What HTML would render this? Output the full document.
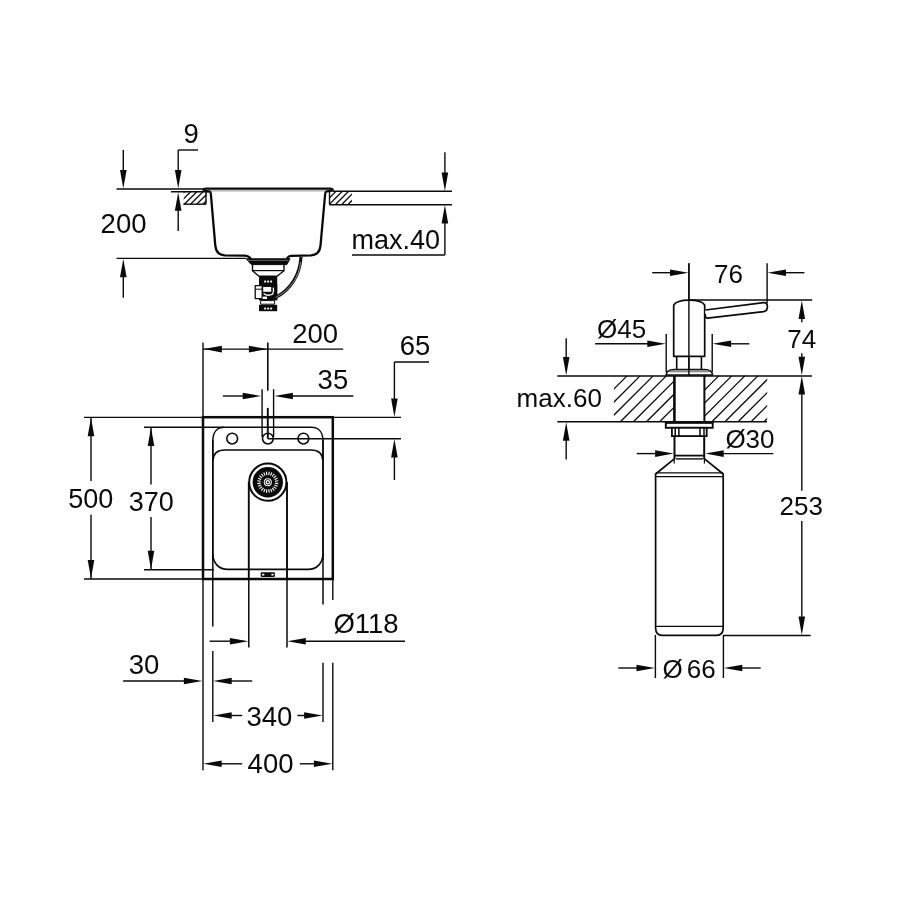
<!DOCTYPE html>
<html lang="en">
<head>
<meta charset="utf-8">
<title>Sink and soap dispenser dimensions</title>
<style>
html,body{margin:0;padding:0;background:#fff;}
body{width:900px;height:900px;overflow:hidden;}
svg{display:block;will-change:transform;}
svg text{font-family:"Liberation Sans",sans-serif;fill:#0a0a0a;stroke:none;}
</style>
</head>
<body>
<svg width="900" height="900" viewBox="0 0 900 900" fill="none" stroke="#0a0a0a" stroke-linecap="butt" stroke-linejoin="round">
<rect x="0" y="0" width="900" height="900" fill="#ffffff" stroke="none"/>
<g id="section-view">
<line x1="123.30" y1="150.00" x2="123.30" y2="175.00" stroke-width="1.4" />
<polygon points="123.30,188.60 120.00,170.10 126.60,170.10" fill="#0a0a0a" stroke="none"/>
<line x1="116.50" y1="189.00" x2="205.00" y2="189.00" stroke-width="1.4" />
<line x1="116.50" y1="258.40" x2="246.00" y2="258.40" stroke-width="1.4" />
<polygon points="123.30,258.80 120.00,277.30 126.60,277.30" fill="#0a0a0a" stroke="none"/>
<line x1="123.30" y1="275.00" x2="123.30" y2="297.80" stroke-width="1.4" />
<text x="100.60" y="232.90" font-size="27.5" text-anchor="start" >200</text>
<line x1="178.20" y1="150.00" x2="198.00" y2="150.00" stroke-width="1.4" />
<line x1="178.20" y1="150.00" x2="178.20" y2="175.00" stroke-width="1.4" />
<polygon points="178.20,188.60 174.90,170.10 181.50,170.10" fill="#0a0a0a" stroke="none"/>
<line x1="171.00" y1="191.80" x2="209.00" y2="191.80" stroke-width="1.4" />
<polygon points="178.20,192.20 174.90,210.70 181.50,210.70" fill="#0a0a0a" stroke="none"/>
<line x1="178.20" y1="208.00" x2="178.20" y2="231.00" stroke-width="1.4" />
<text x="183.40" y="143.20" font-size="27.5" text-anchor="start" >9</text>
<clipPath id="hc1"><rect x="183.70" y="191.30" width="22.60" height="13.00"/></clipPath>
<g clip-path="url(#hc1)">
<line x1="171.90" y1="204.30" x2="184.90" y2="191.30" stroke-width="1.3" />
<line x1="178.10" y1="204.30" x2="191.10" y2="191.30" stroke-width="1.3" />
<line x1="184.30" y1="204.30" x2="197.30" y2="191.30" stroke-width="1.3" />
<line x1="190.50" y1="204.30" x2="203.50" y2="191.30" stroke-width="1.3" />
<line x1="196.70" y1="204.30" x2="209.70" y2="191.30" stroke-width="1.3" />
<line x1="202.90" y1="204.30" x2="215.90" y2="191.30" stroke-width="1.3" />
<line x1="209.10" y1="204.30" x2="222.10" y2="191.30" stroke-width="1.3" />
<line x1="215.30" y1="204.30" x2="228.30" y2="191.30" stroke-width="1.3" />
</g>
<line x1="183.30" y1="204.20" x2="206.00" y2="204.20" stroke-width="1.4" />
<line x1="206.00" y1="191.80" x2="206.00" y2="204.20" stroke-width="1.4" />
<clipPath id="hc2"><rect x="329.30" y="191.30" width="22.60" height="12.90"/></clipPath>
<g clip-path="url(#hc2)">
<line x1="316.80" y1="204.20" x2="329.70" y2="191.30" stroke-width="1.3" />
<line x1="323.10" y1="204.20" x2="336.00" y2="191.30" stroke-width="1.3" />
<line x1="329.40" y1="204.20" x2="342.30" y2="191.30" stroke-width="1.3" />
<line x1="335.70" y1="204.20" x2="348.60" y2="191.30" stroke-width="1.3" />
<line x1="342.00" y1="204.20" x2="354.90" y2="191.30" stroke-width="1.3" />
<line x1="348.30" y1="204.20" x2="361.20" y2="191.30" stroke-width="1.3" />
<line x1="354.60" y1="204.20" x2="367.50" y2="191.30" stroke-width="1.3" />
<line x1="360.90" y1="204.20" x2="373.80" y2="191.30" stroke-width="1.3" />
</g>
<line x1="329.50" y1="191.30" x2="329.50" y2="204.70" stroke-width="1.4" />
<line x1="332.50" y1="191.30" x2="452.00" y2="191.30" stroke-width="1.4" />
<line x1="329.50" y1="204.70" x2="452.00" y2="204.70" stroke-width="1.4" />
<line x1="444.90" y1="152.20" x2="444.90" y2="175.00" stroke-width="1.4" />
<polygon points="444.90,190.90 441.60,172.40 448.20,172.40" fill="#0a0a0a" stroke="none"/>
<polygon points="444.90,205.10 441.60,223.60 448.20,223.60" fill="#0a0a0a" stroke="none"/>
<line x1="444.90" y1="222.00" x2="444.90" y2="255.00" stroke-width="1.4" />
<line x1="352.00" y1="255.00" x2="444.90" y2="255.00" stroke-width="1.4" />
<text x="351.40" y="248.60" font-size="27" text-anchor="start" >max.40</text>
<path d="M203.6,190.8 Q203.0,188.6 206,188.6 L330,188.6 Q333.2,188.6 332.8,190.8" stroke-width="2.2" fill="none" />
<line x1="207.00" y1="190.90" x2="329.00" y2="190.90" stroke-width="0.7" stroke="#666"/>
<path d="M203.8,190.8 L209.4,191.3 Q210.6,191.6 210.8,193.5 L215.3,245.6 Q216.2,254.8 224.8,255.3 L245,255.6 Q248,255.8 249.5,257.4 L251,258.8" stroke-width="2.3" fill="none" />
<path d="M332.4,190.6 L327,191.3 Q325.4,191.6 325.2,193.5 L320.5,245.6 Q319.6,254.8 311,255.3 L291.5,255.9 Q289,256 287.8,257.4 L286.6,258.8" stroke-width="2.3" fill="none" />
<path d="M246.3,258.8 L290,258.8 L286.8,264.6 L251.4,264.6 Z" stroke-width="1" fill="#0a0a0a" />
<line x1="248.00" y1="260.40" x2="288.50" y2="260.40" stroke-width="0.5" stroke="#bbb"/>
<path d="M252.5,264.6 L252.5,270.8 L259,276.3 L277,276.3 L284,270.8 L284,264.6" stroke-width="1.4" fill="none" />
<line x1="252.50" y1="270.60" x2="284.00" y2="270.60" stroke-width="1.2" />
<rect x="259" y="276.3" width="18.2" height="7.9" fill="#0a0a0a" stroke="none"/>
<rect x="264.2" y="280.6" width="1.9" height="1.9" fill="#fff" stroke="none"/>
<rect x="267.2" y="280.6" width="1.9" height="1.9" fill="#fff" stroke="none"/>
<rect x="270.2" y="280.6" width="1.9" height="1.9" fill="#fff" stroke="none"/>
<rect x="259" y="284" width="18.4" height="16.4" fill="#0a0a0a" stroke="none"/>
<rect x="255.2" y="285.6" width="7" height="13" fill="#fff" stroke="#0a0a0a" stroke-width="1.3"/>
<line x1="255.20" y1="289.20" x2="262.00" y2="289.20" stroke-width="1.0" />
<rect x="263.2" y="287" width="8" height="4.8" fill="#fff" stroke="none"/>
<path d="M263.6,293.4 Q267.5,296.6 272.6,294.2 Q274.2,291 273.2,287.6" stroke-width="1.3" fill="none" stroke="#fff"/>
<rect x="262.6" y="296.6" width="4.4" height="2.4" fill="#fff" stroke="none"/>
<rect x="260.6" y="300.6" width="14" height="3.6" fill="#fff" stroke="#0a0a0a" stroke-width="1"/>
<rect x="259" y="304.8" width="18.2" height="6.4" fill="#0a0a0a" stroke="none"/>
<rect x="264.2" y="307.6" width="1.9" height="1.9" fill="#fff" stroke="none"/>
<rect x="267.2" y="307.6" width="1.9" height="1.9" fill="#fff" stroke="none"/>
<rect x="270.2" y="307.6" width="1.9" height="1.9" fill="#fff" stroke="none"/>
<path d="M301,256.8 C300,275 290.5,290 275.6,297.4" stroke-width="3.1" fill="none" />
<path d="M300.6,262 C299,277 290.5,290 275.6,297.4" stroke-width="0.7" fill="none" stroke="#ccc"/>
</g>
<g id="plan-view">
<line x1="203.00" y1="342.60" x2="203.00" y2="417.00" stroke-width="1.4" />
<line x1="267.80" y1="342.60" x2="267.80" y2="390.80" stroke-width="1.6" />
<line x1="267.80" y1="407.90" x2="267.80" y2="438.70" stroke-width="1.9" />
<line x1="203.00" y1="349.10" x2="343.20" y2="349.10" stroke-width="1.4" />
<polygon points="203.40,349.10 221.90,345.80 221.90,352.40" fill="#0a0a0a" stroke="none"/>
<polygon points="267.40,349.10 248.90,345.80 248.90,352.40" fill="#0a0a0a" stroke="none"/>
<text x="292.20" y="343.20" font-size="27.5" text-anchor="start" >200</text>
<line x1="262.10" y1="389.20" x2="262.10" y2="437.00" stroke-width="1.4" />
<line x1="273.60" y1="389.20" x2="273.60" y2="437.00" stroke-width="1.4" />
<line x1="222.80" y1="396.00" x2="245.00" y2="396.00" stroke-width="1.4" />
<polygon points="261.20,396.00 242.70,392.70 242.70,399.30" fill="#0a0a0a" stroke="none"/>
<polygon points="274.40,396.00 292.90,392.70 292.90,399.30" fill="#0a0a0a" stroke="none"/>
<line x1="290.00" y1="396.00" x2="353.30" y2="396.00" stroke-width="1.4" />
<text x="317.60" y="389.20" font-size="27.5" text-anchor="start" >35</text>
<line x1="394.40" y1="362.00" x2="429.00" y2="362.00" stroke-width="1.4" />
<line x1="394.40" y1="362.00" x2="394.40" y2="400.00" stroke-width="1.4" />
<polygon points="394.40,417.00 391.10,398.50 397.70,398.50" fill="#0a0a0a" stroke="none"/>
<line x1="332.00" y1="417.40" x2="401.00" y2="417.40" stroke-width="1.4" />
<line x1="267.80" y1="438.70" x2="401.00" y2="438.70" stroke-width="1.4" />
<polygon points="394.40,439.10 391.10,457.60 397.70,457.60" fill="#0a0a0a" stroke="none"/>
<line x1="394.40" y1="455.00" x2="394.40" y2="480.00" stroke-width="1.4" />
<text x="399.80" y="355.30" font-size="27.5" text-anchor="start" >65</text>
<line x1="84.00" y1="417.40" x2="203.00" y2="417.40" stroke-width="1.4" />
<line x1="84.00" y1="579.00" x2="203.00" y2="579.00" stroke-width="1.4" />
<line x1="144.00" y1="427.20" x2="224.00" y2="427.20" stroke-width="1.4" />
<line x1="144.00" y1="569.70" x2="214.00" y2="569.70" stroke-width="1.4" />
<line x1="91.00" y1="417.40" x2="91.00" y2="481.00" stroke-width="1.4" />
<line x1="91.00" y1="514.80" x2="91.00" y2="579.00" stroke-width="1.4" />
<polygon points="91.00,417.80 87.70,436.30 94.30,436.30" fill="#0a0a0a" stroke="none"/>
<polygon points="91.00,578.60 87.70,560.10 94.30,560.10" fill="#0a0a0a" stroke="none"/>
<line x1="151.00" y1="427.20" x2="151.00" y2="484.50" stroke-width="1.4" />
<line x1="151.00" y1="517.00" x2="151.00" y2="569.70" stroke-width="1.4" />
<polygon points="151.00,427.60 147.70,446.10 154.30,446.10" fill="#0a0a0a" stroke="none"/>
<polygon points="151.00,569.30 147.70,550.80 154.30,550.80" fill="#0a0a0a" stroke="none"/>
<text x="68.20" y="508.10" font-size="27" text-anchor="start" >500</text>
<text x="128.80" y="510.70" font-size="27" text-anchor="start" >370</text>
<rect x="203" y="417.2" width="129.8" height="161.8" stroke-width="2.5" fill="none" stroke-linejoin="miter"/>
<line x1="203.00" y1="578.00" x2="203.00" y2="770.20" stroke-width="1.4" />
<line x1="212.80" y1="440.00" x2="212.80" y2="626.40" stroke-width="1.5" />
<line x1="212.80" y1="651.00" x2="212.80" y2="722.00" stroke-width="1.4" />
<line x1="323.00" y1="440.00" x2="323.00" y2="604.60" stroke-width="1.5" />
<line x1="323.00" y1="662.80" x2="323.00" y2="722.00" stroke-width="1.4" />
<line x1="332.80" y1="578.00" x2="332.80" y2="600.00" stroke-width="1.4" />
<line x1="332.80" y1="662.80" x2="332.80" y2="770.20" stroke-width="1.4" />
<path d="M212.8,560 L212.8,441 C212.8,433 216.5,427.2 224.5,427.2 L311.3,427.2 C319.3,427.2 323,433 323,441 L323,560" stroke-width="1.5" fill="none" />
<circle cx="232.2" cy="438.6" r="5.4" stroke-width="1.6"/>
<circle cx="267.9" cy="438.6" r="5.4" stroke-width="1.6"/>
<circle cx="303.4" cy="438.6" r="5.4" stroke-width="1.6"/>
<path d="M212.9,460.5 C213.2,453.5 217.5,450 225,450 L310.8,450 C318.3,450 322.6,453.5 322.9,460.5 M322.9,554 C322.9,563 317,569.4 308,569.4 L227.8,569.4 C218.8,569.4 212.9,563 212.9,554" stroke-width="1.6" fill="none" />
<line x1="248.80" y1="482.00" x2="248.80" y2="579.00" stroke-width="1.9" />
<line x1="248.80" y1="579.00" x2="248.80" y2="647.60" stroke-width="1.5" />
<line x1="287.00" y1="482.00" x2="287.00" y2="579.00" stroke-width="1.9" />
<line x1="287.00" y1="579.00" x2="287.00" y2="647.60" stroke-width="1.5" />
<circle cx="267.8" cy="482.2" r="18.6" stroke-width="2.0" fill="#fff"/>
<circle cx="267.8" cy="482.2" r="15.2" fill="#0a0a0a" stroke="none"/>
<line x1="274.94" y1="483.14" x2="278.31" y2="483.58" stroke-width="1.1" stroke="#fff"/>
<line x1="274.45" y1="484.96" x2="277.59" y2="486.26" stroke-width="1.1" stroke="#fff"/>
<line x1="273.51" y1="486.58" x2="276.21" y2="488.65" stroke-width="1.1" stroke="#fff"/>
<line x1="272.18" y1="487.91" x2="274.25" y2="490.61" stroke-width="1.1" stroke="#fff"/>
<line x1="270.56" y1="488.85" x2="271.86" y2="491.99" stroke-width="1.1" stroke="#fff"/>
<line x1="268.74" y1="489.34" x2="269.18" y2="492.71" stroke-width="1.1" stroke="#fff"/>
<line x1="266.86" y1="489.34" x2="266.42" y2="492.71" stroke-width="1.1" stroke="#fff"/>
<line x1="265.04" y1="488.85" x2="263.74" y2="491.99" stroke-width="1.1" stroke="#fff"/>
<line x1="263.42" y1="487.91" x2="261.35" y2="490.61" stroke-width="1.1" stroke="#fff"/>
<line x1="262.09" y1="486.58" x2="259.39" y2="488.65" stroke-width="1.1" stroke="#fff"/>
<line x1="261.15" y1="484.96" x2="258.01" y2="486.26" stroke-width="1.1" stroke="#fff"/>
<line x1="260.66" y1="483.14" x2="257.29" y2="483.58" stroke-width="1.1" stroke="#fff"/>
<line x1="260.66" y1="481.26" x2="257.29" y2="480.82" stroke-width="1.1" stroke="#fff"/>
<line x1="261.15" y1="479.44" x2="258.01" y2="478.14" stroke-width="1.1" stroke="#fff"/>
<line x1="262.09" y1="477.82" x2="259.39" y2="475.75" stroke-width="1.1" stroke="#fff"/>
<line x1="263.42" y1="476.49" x2="261.35" y2="473.79" stroke-width="1.1" stroke="#fff"/>
<line x1="265.04" y1="475.55" x2="263.74" y2="472.41" stroke-width="1.1" stroke="#fff"/>
<line x1="266.86" y1="475.06" x2="266.42" y2="471.69" stroke-width="1.1" stroke="#fff"/>
<line x1="268.74" y1="475.06" x2="269.18" y2="471.69" stroke-width="1.1" stroke="#fff"/>
<line x1="270.56" y1="475.55" x2="271.86" y2="472.41" stroke-width="1.1" stroke="#fff"/>
<line x1="272.18" y1="476.49" x2="274.25" y2="473.79" stroke-width="1.1" stroke="#fff"/>
<line x1="273.51" y1="477.82" x2="276.21" y2="475.75" stroke-width="1.1" stroke="#fff"/>
<line x1="274.45" y1="479.44" x2="277.59" y2="478.14" stroke-width="1.1" stroke="#fff"/>
<line x1="274.94" y1="481.26" x2="278.31" y2="480.82" stroke-width="1.1" stroke="#fff"/>
<circle cx="267.8" cy="482.2" r="4.0" fill="#fff" stroke="none"/>
<circle cx="267.8" cy="482.2" r="2.7" fill="none" stroke-width="0.9"/>
<circle cx="267.8" cy="482.2" r="1.0" fill="#0a0a0a" stroke="none"/>
<rect x="260.7" y="572.2" width="14.2" height="4.7" rx="0.8" fill="#0a0a0a" stroke="none"/>
<rect x="262.1" y="573.8" width="2.2" height="1.7" fill="#fff" stroke="none"/>
<rect x="271.4" y="573.8" width="2.2" height="1.7" fill="#fff" stroke="none"/>
<line x1="209.60" y1="641.20" x2="232.00" y2="641.20" stroke-width="1.4" />
<polygon points="248.40,641.20 229.90,637.90 229.90,644.50" fill="#0a0a0a" stroke="none"/>
<polygon points="287.30,641.20 305.80,637.90 305.80,644.50" fill="#0a0a0a" stroke="none"/>
<line x1="304.00" y1="641.20" x2="405.00" y2="641.20" stroke-width="1.4" />
<text x="333.40" y="633.40" font-size="27.5" text-anchor="start" >Ø118</text>
<line x1="123.10" y1="681.00" x2="186.00" y2="681.00" stroke-width="1.4" />
<polygon points="202.40,681.00 183.90,677.70 183.90,684.30" fill="#0a0a0a" stroke="none"/>
<polygon points="213.20,681.00 231.70,677.70 231.70,684.30" fill="#0a0a0a" stroke="none"/>
<line x1="230.00" y1="681.00" x2="252.20" y2="681.00" stroke-width="1.4" />
<text x="128.80" y="674.30" font-size="27.5" text-anchor="start" >30</text>
<polygon points="213.20,715.50 231.70,712.20 231.70,718.80" fill="#0a0a0a" stroke="none"/>
<line x1="230.00" y1="715.50" x2="242.20" y2="715.50" stroke-width="1.4" />
<line x1="297.30" y1="715.50" x2="306.00" y2="715.50" stroke-width="1.4" />
<polygon points="322.60,715.50 304.10,712.20 304.10,718.80" fill="#0a0a0a" stroke="none"/>
<text x="246.40" y="725.70" font-size="27.5" text-anchor="start" >340</text>
<polygon points="203.20,763.80 221.70,760.50 221.70,767.10" fill="#0a0a0a" stroke="none"/>
<line x1="220.00" y1="763.80" x2="242.20" y2="763.80" stroke-width="1.4" />
<line x1="299.80" y1="763.80" x2="316.00" y2="763.80" stroke-width="1.4" />
<polygon points="332.40,763.80 313.90,760.50 313.90,767.10" fill="#0a0a0a" stroke="none"/>
<text x="247.60" y="773.00" font-size="27.5" text-anchor="start" >400</text>
</g>
<g id="dispenser">
<line x1="688.90" y1="263.30" x2="688.90" y2="375.60" stroke-width="1.4" />
<line x1="767.10" y1="263.30" x2="767.10" y2="303.50" stroke-width="1.4" />
<line x1="652.20" y1="272.70" x2="672.00" y2="272.70" stroke-width="1.4" />
<polygon points="688.50,272.70 670.00,269.40 670.00,276.00" fill="#0a0a0a" stroke="none"/>
<polygon points="767.50,272.70 786.00,269.40 786.00,276.00" fill="#0a0a0a" stroke="none"/>
<line x1="784.00" y1="272.70" x2="804.40" y2="272.70" stroke-width="1.4" />
<text x="714.00" y="282.90" font-size="26" text-anchor="start" >76</text>
<line x1="688.90" y1="300.00" x2="812.20" y2="300.00" stroke-width="1.4" />
<polygon points="801.80,300.40 798.50,318.90 805.10,318.90" fill="#0a0a0a" stroke="none"/>
<line x1="801.80" y1="317.00" x2="801.80" y2="322.20" stroke-width="1.4" />
<line x1="801.80" y1="353.30" x2="801.80" y2="360.00" stroke-width="1.4" />
<polygon points="801.80,375.20 798.50,356.70 805.10,356.70" fill="#0a0a0a" stroke="none"/>
<text x="787.20" y="348.30" font-size="26" text-anchor="start" >74</text>
<polygon points="801.80,376.00 798.50,394.50 805.10,394.50" fill="#0a0a0a" stroke="none"/>
<line x1="801.80" y1="393.00" x2="801.80" y2="490.80" stroke-width="1.4" />
<line x1="801.80" y1="520.90" x2="801.80" y2="618.00" stroke-width="1.4" />
<polygon points="801.80,635.10 798.50,616.60 805.10,616.60" fill="#0a0a0a" stroke="none"/>
<line x1="723.00" y1="635.50" x2="810.70" y2="635.50" stroke-width="1.4" />
<text x="779.60" y="515.10" font-size="26" text-anchor="start" >253</text>
<line x1="557.30" y1="376.00" x2="812.00" y2="376.00" stroke-width="1.4" />
<line x1="557.30" y1="421.80" x2="767.00" y2="421.80" stroke-width="1.4" />
<clipPath id="hc3"><rect x="613.90" y="375.60" width="59.70" height="46.20"/></clipPath>
<g clip-path="url(#hc3)">
<line x1="568.00" y1="421.80" x2="614.20" y2="375.60" stroke-width="1.3" />
<line x1="581.08" y1="421.80" x2="627.28" y2="375.60" stroke-width="1.3" />
<line x1="594.16" y1="421.80" x2="640.36" y2="375.60" stroke-width="1.3" />
<line x1="607.24" y1="421.80" x2="653.44" y2="375.60" stroke-width="1.3" />
<line x1="620.32" y1="421.80" x2="666.52" y2="375.60" stroke-width="1.3" />
<line x1="633.40" y1="421.80" x2="679.60" y2="375.60" stroke-width="1.3" />
<line x1="646.48" y1="421.80" x2="692.68" y2="375.60" stroke-width="1.3" />
<line x1="659.56" y1="421.80" x2="705.76" y2="375.60" stroke-width="1.3" />
<line x1="672.64" y1="421.80" x2="718.84" y2="375.60" stroke-width="1.3" />
<line x1="685.72" y1="421.80" x2="731.92" y2="375.60" stroke-width="1.3" />
<line x1="698.80" y1="421.80" x2="745.00" y2="375.60" stroke-width="1.3" />
<line x1="711.88" y1="421.80" x2="758.08" y2="375.60" stroke-width="1.3" />
</g>
<clipPath id="hc4"><rect x="704.40" y="375.60" width="62.80" height="46.20"/></clipPath>
<g clip-path="url(#hc4)">
<line x1="659.70" y1="421.80" x2="705.90" y2="375.60" stroke-width="1.3" />
<line x1="672.75" y1="421.80" x2="718.95" y2="375.60" stroke-width="1.3" />
<line x1="685.80" y1="421.80" x2="732.00" y2="375.60" stroke-width="1.3" />
<line x1="698.85" y1="421.80" x2="745.05" y2="375.60" stroke-width="1.3" />
<line x1="711.90" y1="421.80" x2="758.10" y2="375.60" stroke-width="1.3" />
<line x1="724.95" y1="421.80" x2="771.15" y2="375.60" stroke-width="1.3" />
<line x1="738.00" y1="421.80" x2="784.20" y2="375.60" stroke-width="1.3" />
<line x1="751.05" y1="421.80" x2="797.25" y2="375.60" stroke-width="1.3" />
<line x1="764.10" y1="421.80" x2="810.30" y2="375.60" stroke-width="1.3" />
<line x1="777.15" y1="421.80" x2="823.35" y2="375.60" stroke-width="1.3" />
<line x1="790.20" y1="421.80" x2="836.40" y2="375.60" stroke-width="1.3" />
<line x1="803.25" y1="421.80" x2="849.45" y2="375.60" stroke-width="1.3" />
</g>
<line x1="566.20" y1="338.20" x2="566.20" y2="360.00" stroke-width="1.4" />
<polygon points="566.20,375.60 562.90,357.10 569.50,357.10" fill="#0a0a0a" stroke="none"/>
<polygon points="566.20,422.20 562.90,440.70 569.50,440.70" fill="#0a0a0a" stroke="none"/>
<line x1="566.20" y1="439.00" x2="566.20" y2="459.60" stroke-width="1.4" />
<text x="516.60" y="407.20" font-size="26" text-anchor="start" >max.60</text>
<path d="M673.7,356.3 L673.7,305.2 C675.5,301.6 681,300.1 689.2,300.1 C697.4,300.1 703,301.6 704.7,305.2 L704.7,356.3 Z" stroke-width="1.7" fill="#fff" />
<path d="M705.4,310 L763.6,302.6 C766.2,302.4 767.4,304.2 767.4,306.8 C767.4,309.6 766.2,311.2 763.6,311.6 L707.6,318.2 C705.8,318.2 705,316 705.2,313.6" stroke-width="1.7" fill="#fff" />
<path d="M676.7,356.3 L676.7,369.5 M701.4,356.3 L701.4,369.5" stroke-width="1.6" fill="none" />
<path d="M666,375 C666.4,371.4 669.5,369.5 674,369.4 L704.6,369.4 C709.2,369.5 712.2,371.4 712.7,375 Z" stroke-width="1.5" fill="#fff" />
<path d="M669,372.0 C670.4,370.6 672,370.2 675,370.2 L703.6,370.2 C706.6,370.2 708.2,370.6 709.6,372.0 Z" stroke-width="0.5" fill="#9a9a9a" stroke="#666"/>
<line x1="688.90" y1="263.30" x2="688.90" y2="375.60" stroke-width="1.4" />
<line x1="666.20" y1="334.00" x2="666.20" y2="372.00" stroke-width="1.4" />
<line x1="712.20" y1="334.00" x2="712.20" y2="372.00" stroke-width="1.4" />
<line x1="595.10" y1="343.80" x2="650.00" y2="343.80" stroke-width="1.4" />
<polygon points="665.80,343.80 647.30,340.50 647.30,347.10" fill="#0a0a0a" stroke="none"/>
<polygon points="712.60,343.80 731.10,340.50 731.10,347.10" fill="#0a0a0a" stroke="none"/>
<line x1="729.00" y1="343.80" x2="749.30" y2="343.80" stroke-width="1.4" />
<text x="597.00" y="338.30" font-size="26" text-anchor="start" >Ø45</text>
<line x1="674.40" y1="376.00" x2="674.40" y2="422.40" stroke-width="2.6" />
<line x1="704.40" y1="376.00" x2="704.40" y2="422.40" stroke-width="2.0" />
<rect x="665.8" y="422.9" width="46.9" height="4.9" fill="#fff" stroke-width="1.9" stroke-linejoin="miter"/>
<line x1="665.00" y1="422.30" x2="713.60" y2="422.30" stroke-width="1.6" />
<rect x="671.9" y="427.8" width="34.8" height="8.3" fill="#fff" stroke-width="1.8" stroke-linejoin="miter"/>
<line x1="675.20" y1="428.00" x2="675.20" y2="436.00" stroke-width="1.5" />
<line x1="678.90" y1="428.00" x2="678.90" y2="436.00" stroke-width="1.5" />
<line x1="700.00" y1="428.00" x2="700.00" y2="436.00" stroke-width="1.5" />
<line x1="704.00" y1="428.00" x2="704.00" y2="436.00" stroke-width="1.5" />
<line x1="674.50" y1="436.00" x2="674.50" y2="459.00" stroke-width="2.0" />
<line x1="704.20" y1="436.00" x2="704.20" y2="459.00" stroke-width="2.0" />
<line x1="674.50" y1="455.60" x2="704.20" y2="455.60" stroke-width="1.8" />
<line x1="676.00" y1="458.90" x2="703.00" y2="458.90" stroke-width="1.4" />
<line x1="674.20" y1="459.00" x2="674.20" y2="463.40" stroke-width="1.2" />
<line x1="704.40" y1="459.00" x2="704.40" y2="463.40" stroke-width="1.2" />
<line x1="636.70" y1="453.60" x2="657.00" y2="453.60" stroke-width="1.4" />
<polygon points="673.60,453.60 655.10,450.30 655.10,456.90" fill="#0a0a0a" stroke="none"/>
<polygon points="705.20,453.60 723.70,450.30 723.70,456.90" fill="#0a0a0a" stroke="none"/>
<line x1="722.00" y1="453.60" x2="773.30" y2="453.60" stroke-width="1.4" />
<text x="725.40" y="447.90" font-size="26" text-anchor="start" >Ø30</text>
<path d="M674.6,458.6 L655.6,474 L655.6,628.4 Q655.9,635.3 662,635.3 L716.8,635.3 Q722.9,635.3 723.2,628.4 L723.2,474 L704.2,458.6" stroke-width="1.7" fill="none" />
<line x1="656.00" y1="472.80" x2="723.00" y2="472.80" stroke-width="1.2" />
<line x1="655.60" y1="476.60" x2="723.30" y2="476.60" stroke-width="1.2" />
<line x1="655.60" y1="626.40" x2="723.20" y2="626.40" stroke-width="1.4" />
<line x1="655.40" y1="635.00" x2="655.40" y2="678.00" stroke-width="1.4" />
<line x1="723.40" y1="635.00" x2="723.40" y2="678.00" stroke-width="1.4" />
<line x1="618.30" y1="668.00" x2="639.00" y2="668.00" stroke-width="1.4" />
<polygon points="655.00,668.00 636.50,664.70 636.50,671.30" fill="#0a0a0a" stroke="none"/>
<polygon points="723.80,668.00 742.30,664.70 742.30,671.30" fill="#0a0a0a" stroke="none"/>
<line x1="740.00" y1="668.00" x2="760.70" y2="668.00" stroke-width="1.4" />
<text x="662.60" y="677.60" font-size="26" text-anchor="start" >Ø<tspan dx="4.0">66</tspan></text>
</g>
</svg>
</body>
</html>
